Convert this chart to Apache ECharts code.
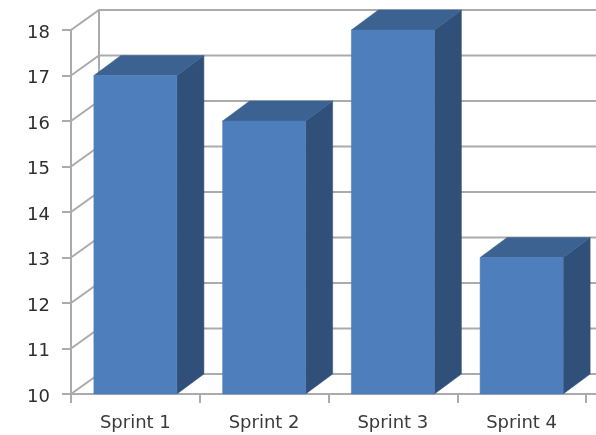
<!DOCTYPE html>
<html><head><meta charset="utf-8">
<style>html,body{margin:0;padding:0;background:#fff}#c{width:596px;height:435px}</style>
<script src="https://cdn.jsdelivr.net/npm/echarts@6/dist/echarts.min.js"></script>
</head><body><div id="c"></div>
<script>
const categories = ['Sprint 1', 'Sprint 2', 'Sprint 3', 'Sprint 4'];
const values = [17, 16, 18, 13];
const yTicks = [10, 11, 12, 13, 14, 15, 16, 17, 18];
const yMin = 10, yMax = 18;

const wallDepthX = 28, depthX = 27, depthY = 20, barFrac = 0.645;
const gridColor = '#ababab';
const chart = echarts.init(document.getElementById('c'), null, {renderer: 'canvas'});

function wall(params, api) {
  const cs = params.coordSys;
  const v = api.value(0);
  const y = api.coord([0, v])[1];
  const left = cs.x, right = cs.x + cs.width;
  const children = [{
    type: 'polyline',
    shape: {points: [[left, y], [left + wallDepthX, y - depthY], [right + wallDepthX, y - depthY]]},
    style: {stroke: gridColor, lineWidth: 2, fill: null}
  }];
  if (params.dataIndex === 0) {
    children.push({
      type: 'line',
      shape: {x1: left + wallDepthX, y1: cs.y + cs.height - depthY, x2: left + wallDepthX, y2: cs.y - depthY},
      style: {stroke: gridColor, lineWidth: 2}
    });
    children.push({
      type: 'line',
      shape: {x1: right, y1: cs.y + cs.height, x2: right + wallDepthX, y2: cs.y + cs.height},
      style: {stroke: gridColor, lineWidth: 2}
    });
  }
  return {type: 'group', children};
}

function bar3d(params, api) {
  const top = api.coord([api.value(0), api.value(1)]);
  const base = api.coord([api.value(0), yMin]);
  const w = api.size([1, 0])[0] * barFrac;
  const x0 = top[0] - w / 2, x1 = top[0] + w / 2;
  const yt = top[1], yb = base[1];
  return {type: 'group', children: [
    {type: 'polygon', shape: {points: [[x1, yt], [x1 + depthX, yt - depthY], [x1 + depthX, yb - depthY], [x1, yb]]},
     style: {fill: '#315079', stroke: '#315079', lineWidth: 0.5}},
    {type: 'polygon', shape: {points: [[x0, yt], [x0 + depthX, yt - depthY], [x1 + depthX, yt - depthY], [x1, yt]]},
     style: {fill: '#3b6290', stroke: '#3b6290', lineWidth: 0.5}},
    {type: 'rect', shape: {x: x0, y: yt, width: w, height: yb - yt},
     style: {fill: '#4e7fbc', stroke: '#4e7fbc', lineWidth: 0.5}}
  ]};
}

const font = '"DejaVu Sans", sans-serif';
chart.setOption({
  animation: false,
  backgroundColor: '#fff',
  grid: {left: 71, top: 30, right: 10, bottom: 41, containLabel: false},
  xAxis: {
    type: 'category', data: categories, boundaryGap: true,
    axisLine: {show: true, lineStyle: {color: gridColor, width: 2}},
    axisTick: {show: true, length: 9, alignWithLabel: false, lineStyle: {color: gridColor, width: 2}},
    axisLabel: {color: '#3a3a3a', fontSize: 18, fontFamily: font, margin: 20, interval: 0},
    splitLine: {show: false}
  },
  yAxis: {
    type: 'value', min: yMin, max: yMax, interval: 1,
    axisLine: {show: true, lineStyle: {color: gridColor, width: 2}},
    axisTick: {show: true, length: 9, lineStyle: {color: gridColor, width: 2}},
    axisLabel: {color: '#2e2e2e', fontSize: 18, fontFamily: font, margin: 21, align: 'right', verticalAlign: 'top', lineHeight: 6},
    splitLine: {show: false}
  },
  series: [
    {type: 'custom', renderItem: wall, clip: false, silent: true, z: 1,
     encode: {y: 0}, data: yTicks.map(v => [v])},
    {type: 'custom', renderItem: bar3d, clip: false, silent: true, z: 3,
     encode: {x: 0, y: 1}, data: values.map((v, i) => [i, v])}
  ]
});
</script></body></html>
